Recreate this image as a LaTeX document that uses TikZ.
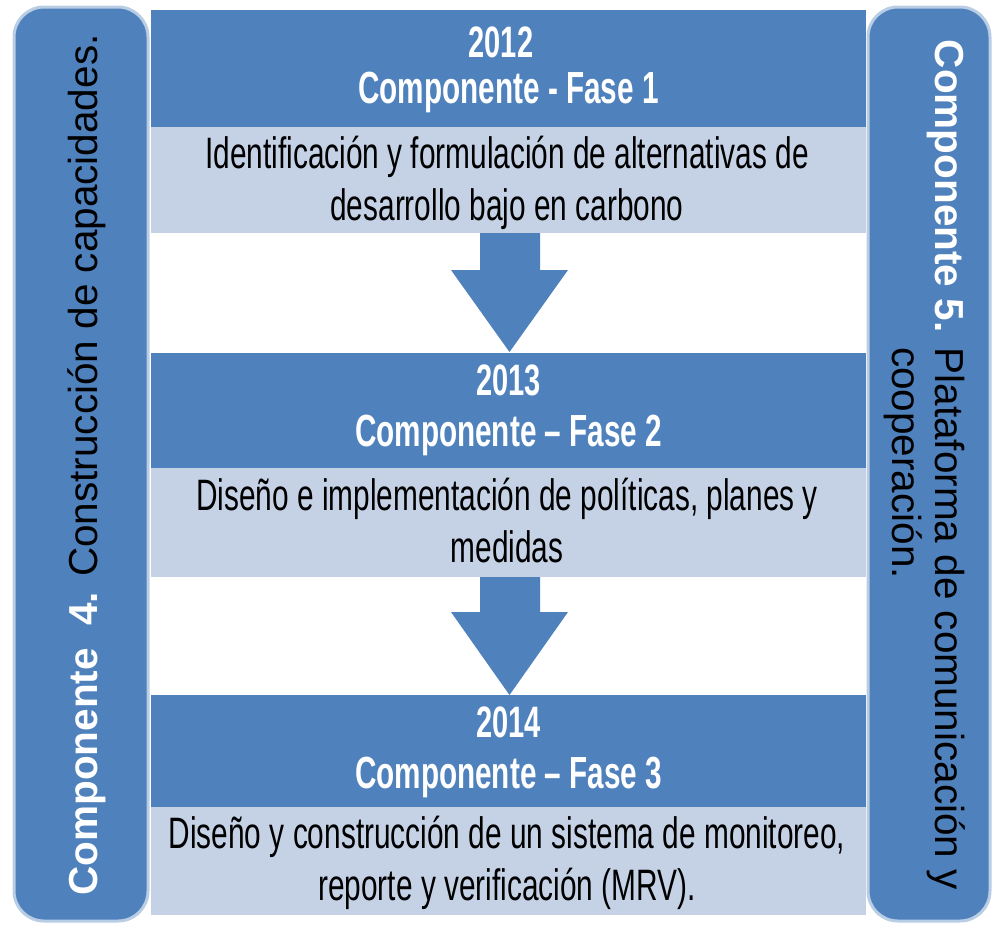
\documentclass[tikz,border=0pt]{standalone}
\usepackage{fontspec}
\setmainfont{Liberation Sans}
\newfontfamily\nar[FakeStretch=0.66]{Liberation Sans}
\newfontfamily\narb[FakeStretch=0.678]{Liberation Sans}
\definecolor{dblue}{HTML}{4F81BD}
\definecolor{lblue}{HTML}{C5D2E6}
\definecolor{bord}{HTML}{B9CDE5}
\tikzset{
  sidebar/.style={fill=dblue, draw=bord, line width=3pt, rounded corners=30pt, minimum width=134pt, minimum height=914pt, inner sep=0pt},
  darkband/.style={fill=dblue, draw=none, minimum width=715pt, inner sep=0pt},
  lightband/.style={fill=lblue, draw=none, minimum width=715pt, inner sep=0pt},
  yeartxt/.style={text=white, font=\nar\bfseries\fontsize{44}{44}\selectfont, anchor=base, inner sep=0pt},
  titletxt/.style={text=white, font=\nar\bfseries\fontsize{45}{45}\selectfont, anchor=base, inner sep=0pt},
  bodytxt/.style={text=black, font=\narb\fontsize{44}{44}\selectfont, anchor=base, inner sep=0pt},
  sidetxt/.style={font=\fontsize{40.5}{40.5}\selectfont, anchor=base, inner sep=0pt},
  downarrow/.style={fill=dblue, draw=none}
}
\begin{document}
\begin{tikzpicture}[x=1pt,y=-1pt]
\useasboundingbox (0,0) rectangle (992,924);
\fill[white] (0,0) rectangle (992,924);

% side bars
\node[sidebar] (lbar) at (81,464) {};
\node[sidebar, minimum width=122pt] (rbar) at (929,464) {};

% bands
\node[darkband, minimum height=117pt] (d1) at (508.5,68.5) {};
\node[lightband, minimum height=106pt] (l1) at (508.5,180) {};
\node[darkband, minimum height=115pt] (d2) at (508.5,410.5) {};
\node[lightband, minimum height=109pt] (l2) at (508.5,522.5) {};
\node[darkband, minimum height=112pt] (d3) at (508.5,751) {};
\node[lightband, minimum height=108pt] (l3) at (508.5,861) {};

% arrows
\fill[downarrow] (480,233) -- (540,233) -- (540,270) -- (568,270) -- (509.5,352) -- (451,270) -- (480,270) -- cycle;
\fill[downarrow] (480,577) -- (540,577) -- (540,612) -- (568,612) -- (509.5,695) -- (451,612) -- (480,612) -- cycle;

% band 1
\node[yeartxt] (y1) at (501,57) {2012};
\node[titletxt] (t1) at (508.5,103) {Componente - Fase 1};
\node[bodytxt] (b1a) at (507,168) {Identificación y formulación de alternativas de};
\node[bodytxt] (b1b) at (507,220) {desarrollo bajo en carbono};

% band 2
\node[yeartxt] (y2) at (508.5,395) {2013};
\node[titletxt] (t2) at (508.5,446) {Componente – Fase 2};
\node[bodytxt] (b2a) at (507,510) {Diseño e implementación de políticas, planes y};
\node[bodytxt] (b2b) at (507,562) {medidas};

% band 3
\node[yeartxt] (y3) at (508.5,737) {2014};
\node[titletxt] (t3) at (508.5,788) {Componente – Fase 3};
\node[bodytxt] (b3a) at (507,848) {Diseño y construcción de un sistema de monitoreo,};
\node[bodytxt] (b3b) at (507,900) {reporte y verificación (MRV).};

% side texts
\node[sidetxt, rotate=90] (ltxt) at (97,465) {\textcolor{white}{\bfseries Componente\ \ 4.} Construcción de capacidades.};
\node[sidetxt, rotate=-90] (rtxt1) at (935,465) {\textcolor{white}{\bfseries Componente 5.} Plataforma de comunicación y};
\node[sidetxt, rotate=-90] (rtxt2) at (892,463) {cooperación.};
\end{tikzpicture}
\end{document}
